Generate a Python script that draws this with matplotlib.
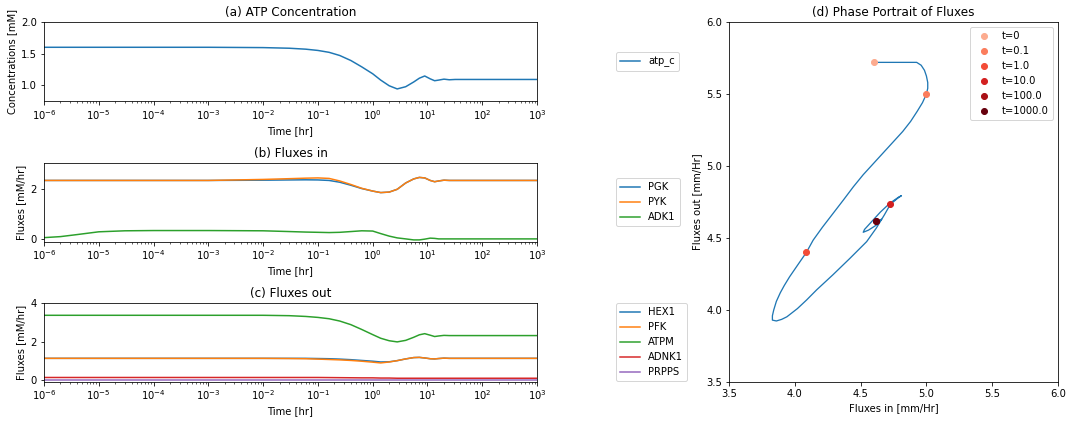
import numpy as np
import matplotlib
matplotlib.use("Agg")
import matplotlib.pyplot as plt
from matplotlib.ticker import LogLocator, NullFormatter

# shared time grid [hr]
t_hr = [1e-6, 2e-6, 4e-6, 1e-5, 3e-5, 1e-4, 1e-3, 1e-2, 0.03, 0.06, 0.1,
        0.16, 0.25, 0.4, 0.63, 1.0, 1.4, 2.0, 2.8, 4.0, 5.6, 7.1, 8.9, 11.2,
        13.5, 16.0, 20.0, 25.0, 32.0, 100.0, 1000.0]

# (a) ATP concentration [mM]
atp_c = [1.60, 1.60, 1.60, 1.60, 1.60, 1.60, 1.60, 1.595, 1.585, 1.57, 1.55,
         1.52, 1.47, 1.39, 1.29, 1.18, 1.08, 0.99, 0.94, 0.975, 1.05, 1.11,
         1.145, 1.10, 1.07, 1.08, 1.095, 1.085, 1.09, 1.09, 1.09]

# (b) fluxes in [mM/hr]
PGK = [2.32, 2.32, 2.32, 2.32, 2.32, 2.32, 2.32, 2.33, 2.34, 2.345, 2.34,
       2.32, 2.25, 2.13, 2.00, 1.90, 1.84, 1.86, 1.97, 2.22, 2.38, 2.44,
       2.42, 2.32, 2.27, 2.30, 2.33, 2.32, 2.32, 2.32, 2.32]
PYK = [2.32, 2.32, 2.32, 2.32, 2.32, 2.32, 2.32, 2.36, 2.39, 2.41, 2.42,
       2.40, 2.30, 2.16, 2.01, 1.90, 1.84, 1.86, 1.97, 2.22, 2.38, 2.44,
       2.42, 2.32, 2.27, 2.30, 2.33, 2.32, 2.32, 2.32, 2.32]
ADK1 = [0.06, 0.10, 0.18, 0.29, 0.33, 0.34, 0.34, 0.33, 0.30, 0.28, 0.27,
        0.26, 0.27, 0.30, 0.33, 0.32, 0.22, 0.12, 0.05, 0.01, -0.03, -0.03,
        0.00, 0.04, 0.03, 0.01, 0.01, 0.01, 0.01, 0.01, 0.01]

# (c) fluxes out [mM/hr]
HEX1 = [1.12, 1.12, 1.12, 1.12, 1.12, 1.12, 1.12, 1.12, 1.12, 1.12, 1.11,
        1.10, 1.08, 1.05, 1.01, 0.97, 0.93, 0.94, 1.00, 1.09, 1.16, 1.17,
        1.14, 1.10, 1.09, 1.11, 1.13, 1.12, 1.12, 1.12, 1.12]
PFK = [1.12, 1.12, 1.12, 1.12, 1.12, 1.12, 1.12, 1.12, 1.11, 1.10, 1.08,
       1.06, 1.04, 1.01, 0.97, 0.92, 0.88, 0.93, 1.00, 1.09, 1.16, 1.17,
       1.14, 1.10, 1.09, 1.11, 1.13, 1.12, 1.12, 1.12, 1.12]
ATPM = [3.37, 3.37, 3.37, 3.37, 3.37, 3.37, 3.37, 3.37, 3.35, 3.31, 3.26,
        3.19, 3.07, 2.88, 2.63, 2.36, 2.17, 2.04, 1.98, 2.06, 2.22, 2.35,
        2.41, 2.33, 2.26, 2.29, 2.32, 2.31, 2.31, 2.31, 2.31]
ADNK1 = [0.12, 0.12, 0.12, 0.12, 0.12, 0.12, 0.12, 0.12, 0.12, 0.12, 0.12,
         0.115, 0.11, 0.105, 0.10, 0.10, 0.09, 0.09, 0.08, 0.08, 0.08, 0.08,
         0.08, 0.08, 0.08, 0.08, 0.08, 0.08, 0.08, 0.08, 0.08]
PRPPS = [0.014] * len(t_hr)

# (d) phase portrait path
flux_in = [4.604, 4.926, 4.96, 4.985, 5.0, 5.01, 5.01, 5.0, 4.97, 4.93, 4.88,
           4.82, 4.75, 4.68, 4.60, 4.52, 4.445, 4.37, 4.29, 4.21, 4.14, 4.088,
           4.02, 3.96, 3.92, 3.89, 3.86, 3.84, 3.83, 3.83, 3.86, 3.90, 3.94,
           4.02, 4.09, 4.166, 4.29, 4.42, 4.546, 4.62, 4.68, 4.726, 4.78,
           4.81, 4.79, 4.72, 4.65, 4.58, 4.53, 4.52, 4.56, 4.62, 4.66, 4.64,
           4.62]
flux_out = [5.72, 5.72, 5.70, 5.665, 5.625, 5.58, 5.54, 5.50, 5.44, 5.38,
            5.31, 5.24, 5.17, 5.10, 5.02, 4.94, 4.856, 4.765, 4.67, 4.575,
            4.486, 4.40, 4.31, 4.23, 4.17, 4.12, 4.06, 4.0, 3.96, 3.93, 3.924,
            3.935, 3.953, 4.01, 4.07, 4.14, 4.245, 4.36, 4.475, 4.57, 4.66,
            4.734, 4.775, 4.794, 4.785, 4.74, 4.68, 4.61, 4.56, 4.54, 4.555,
            4.59, 4.63, 4.625, 4.618]

marker_labels = ["t=0", "t=0.1", "t=1.0", "t=10.0", "t=100.0", "t=1000.0"]
marker_in = [4.604, 5.0, 4.088, 4.726, 4.62, 4.62]
marker_out = [5.72, 5.50, 4.40, 4.734, 4.618, 4.618]


def log_time_axis(ax):
    ax.set_xscale("log")
    ax.set_xlim(1e-6, 1e3)
    ax.xaxis.set_major_locator(LogLocator(base=10, numticks=15))
    ax.xaxis.set_minor_locator(LogLocator(base=10, subs=np.arange(2, 10),
                                          numticks=15))
    ax.xaxis.set_minor_formatter(NullFormatter())
    ax.set_xlabel("Time [hr]")


fig = plt.figure(figsize=(1072 / 72, 424 / 72), dpi=72)

ax_a = fig.add_axes([0.041, 0.762, 0.460, 0.186])
ax_b = fig.add_axes([0.041, 0.430, 0.460, 0.185])
ax_c = fig.add_axes([0.041, 0.0998, 0.460, 0.185])
ax_d = fig.add_axes([0.680, 0.099, 0.307, 0.849])

ax_a.plot(t_hr, atp_c, label="atp_c")
log_time_axis(ax_a)
ax_a.set_ylim(0.75, 2.0)
ax_a.set_ylabel("Concentrations [mM]")
ax_a.set_title("(a) ATP Concentration")
ax_a.legend(loc="center left", bbox_to_anchor=(1.15, 0.5))

for name, vals in [("PGK", PGK), ("PYK", PYK), ("ADK1", ADK1)]:
    ax_b.plot(t_hr, vals, label=name)
log_time_axis(ax_b)
ax_b.set_ylim(-0.1, 3.0)
ax_b.set_ylabel("Fluxes [mM/hr]")
ax_b.set_title("(b) Fluxes in")
ax_b.legend(loc="center left", bbox_to_anchor=(1.15, 0.5))

for name, vals in [("HEX1", HEX1), ("PFK", PFK), ("ATPM", ATPM),
                   ("ADNK1", ADNK1), ("PRPPS", PRPPS)]:
    ax_c.plot(t_hr, vals, label=name)
log_time_axis(ax_c)
ax_c.set_ylim(-0.1, 4.0)
ax_c.set_ylabel("Fluxes [mM/hr]")
ax_c.set_title("(c) Fluxes out")
ax_c.legend(loc="center left", bbox_to_anchor=(1.15, 0.5))

ax_d.plot(flux_in, flux_out, lw=1.3)
colors = plt.cm.Reds(np.linspace(0.3, 1.0, len(marker_labels)))
for lab, x, y, c in zip(marker_labels, marker_in, marker_out, colors):
    ax_d.plot(x, y, "o", color=c, label=lab, zorder=3)
ax_d.set_xlim(3.5, 6.0)
ax_d.set_ylim(3.5, 6.0)
ax_d.set_xlabel("Fluxes in [mm/Hr]")
ax_d.set_ylabel("Fluxes out [mm/Hr]")
ax_d.set_title("(d) Phase Portrait of Fluxes")
ax_d.legend(loc="upper right")

fig.savefig("out.png", dpi=72)
